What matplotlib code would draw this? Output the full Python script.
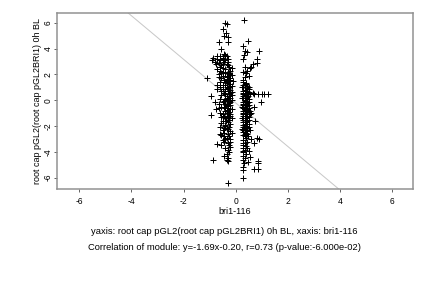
import matplotlib
matplotlib.use("Agg")
import matplotlib.pyplot as plt

plt.rcParams['font.family'] = ['Liberation Sans', 'DejaVu Sans']
plt.rcParams['axes.unicode_minus'] = False

# fitted line from the caption
slope = -1.69
intercept = -0.20

# left cluster (x around -0.35)
left_pts = [
    (-0.4, 6.0), (-0.35, 5.95), (-0.5, 5.5), (-0.38, 5.2), (-0.46, 5.0), (-0.3, 4.9),
    (-0.62, 4.5), (-0.3, 4.5), (-0.55, 4.0),
    (-0.85, 3.3), (-0.7, 3.2), (-0.6, 3.4), (-0.5, 3.3), (-0.4, 3.5), (-0.3, 3.2),
    (-0.45, 3.0), (-0.65, 2.9), (-0.75, 2.8), (-0.35, 2.8), (-0.55, 2.7), (-0.25, 2.6),
    (-0.5, 2.5), (-0.4, 2.4), (-0.3, 3.0), (-0.6, 3.1), (-0.45, 3.6), (-0.35, 3.4),
    (-0.8, 3.0), (-0.28, 2.7),
    (-0.3, 2.2), (-0.4, 2.1), (-0.25, 2.0), (-0.5, 1.9), (-0.35, 1.8), (-0.2, 1.7),
    (-0.45, 1.6), (-0.3, 1.5), (-0.6, 1.4), (-0.25, 1.3), (-0.4, 1.2), (-0.15, 1.1),
    (-0.35, 1.0), (-0.5, 0.9), (-0.2, 0.8), (-0.3, 0.7), (-0.45, 0.6), (-0.25, 0.5),
    (-0.55, 0.4), (-0.35, 0.3), (-0.2, 0.2), (-0.4, 0.1), (-0.3, 0.0), (-0.5, -0.1),
    (-0.25, -0.2), (-0.35, -0.3), (-0.2, -0.4), (-0.45, -0.5), (-0.3, -0.6), (-0.15, -0.7),
    (-0.4, -0.8), (-0.25, -0.9), (-0.35, -1.0), (-0.5, -1.1), (-0.2, -1.2), (-0.3, -1.3),
    (-0.4, -1.4), (-0.25, -1.5),
    (-0.2, 2.3), (-0.5, 2.2), (-0.15, 1.95), (-0.3, 1.85), (-0.55, 1.75), (-0.2, 1.55),
    (-0.35, 1.35), (-0.5, 1.15), (-0.25, 1.05), (-0.3, 0.85), (-0.15, 0.65), (-0.4, 0.45),
    (-0.25, 0.35), (-0.3, 0.15), (-0.15, 0.05), (-0.45, -0.05), (-0.2, -0.15), (-0.4, -0.25),
    (-0.3, -0.45), (-0.55, -0.55), (-0.2, -0.65), (-0.35, -0.75), (-0.3, -0.95), (-0.2, -1.05),
    (-0.45, -1.25), (-0.15, -1.35), (-0.3, -1.55),
    (-0.25, 2.15), (-0.35, 1.65), (-0.4, 1.45), (-0.2, 1.25), (-0.3, 0.95), (-0.4, 0.75),
    (-0.2, 0.55), (-0.35, 0.2), (-0.25, -0.05), (-0.3, -0.35), (-0.4, -0.6), (-0.25, -1.1),
    (-0.35, -1.2),
    (-1.08, 1.7), (-0.95, 0.3), (-0.7, 0.9), (-0.8, -0.1), (-0.65, -0.3), (-0.96, -1.15),
    (-0.75, -0.7), (-0.6, -1.0), (-0.7, 1.2), (-0.65, 2.0),
    (-0.3, -1.7), (-0.55, -1.75), (-0.2, -1.85), (-0.4, -2.0), (-0.25, -2.1), (-0.35, -2.25),
    (-0.2, -2.4), (-0.45, -2.5), (-0.6, -2.6), (-0.55, -2.7), (-0.3, -2.6), (-0.25, -2.8),
    (-0.35, -2.9), (-0.2, -3.0), (-0.5, -3.1), (-0.45, -3.25), (-0.3, -3.3), (-0.25, -3.5),
    (-0.2, -3.6), (-0.4, -3.7), (-0.3, -3.85), (-0.25, -4.0), (-0.35, -4.2), (-0.45, -4.3),
    (-0.3, -4.5), (-0.35, -4.65), (-0.28, -4.7), (-0.85, -4.6), (-0.3, -6.4), (-0.7, -3.4),
    (-0.4, -1.9), (-0.3, -2.2),
    (-0.6, 2.6), (-0.7, 2.4), (-0.55, 2.1), (-0.65, 1.8), (-0.6, 1.0), (-0.55, 0.7),
    (-0.6, 0.1), (-0.65, -0.6), (-0.55, -1.3), (-0.5, -1.6), (-0.6, -2.1), (-0.5, -2.3),
    (-0.45, -2.8), (-0.4, -3.0), (-0.55, -3.5), (-0.2, -3.2), (-0.15, -2.5), (-0.15, 0.4),
    (-0.12, 1.5), (-0.15, 2.5), (-0.5, 3.2), (-0.72, 3.4), (-0.9, 3.1), (-0.4, 3.1),
    (-0.48, 2.8), (-0.6, 2.3), (-0.38, -1.6), (-0.45, -2.15),
]

# right cluster (x around 0.35)
right_pts = [
    (0.31, 6.2), (0.46, 4.6), (0.3, 4.2), (0.9, 3.8), (0.35, 3.8), (0.42, 3.75), (0.33, 3.5),
    (0.8, 3.2), (0.8, 2.9), (0.3, 3.2), (0.6, 2.6), (0.55, 2.5), (0.65, 2.8), (0.4, 2.1),
    (0.45, 2.3), (0.35, 1.8), (0.5, 1.9), (0.3, 1.6),
    (0.3, 1.4), (0.4, 1.3), (0.35, 1.2), (0.45, 1.1), (0.3, 1.0), (0.5, 0.9), (0.35, 0.8),
    (0.4, 0.7), (0.3, 0.6), (0.45, 0.5), (0.35, 0.4), (0.3, 0.3), (0.4, 0.2), (0.5, 0.1),
    (0.35, 0.0), (0.3, -0.1), (0.45, -0.2), (0.4, -0.3), (0.3, -0.4), (0.35, -0.5),
    (0.5, -0.6), (0.4, -0.7), (0.3, -0.8), (0.45, -0.9), (0.35, -1.0), (0.3, -1.1),
    (0.4, -1.2), (0.5, -1.3), (0.35, -1.4), (0.3, -1.5), (0.45, -1.6), (0.4, -1.7),
    (0.35, -1.8), (0.3, -1.9), (0.4, -2.0), (0.5, -2.1), (0.35, -2.2), (0.3, -2.3),
    (0.45, -2.4), (0.4, -2.5),
    (0.38, 1.35), (0.27, 1.15), (0.42, 0.95), (0.28, 0.75), (0.5, 0.65), (0.38, 0.55),
    (0.27, 0.45), (0.42, 0.25), (0.3, 0.15), (0.38, -0.05), (0.5, -0.15), (0.28, -0.25),
    (0.42, -0.45), (0.28, -0.6), (0.38, -0.75), (0.55, -0.85), (0.27, -0.95), (0.42, -1.05),
    (0.3, -1.25), (0.38, -1.35), (0.5, -1.5), (0.28, -1.65), (0.42, -1.85), (0.3, -2.05),
    (0.38, -2.15), (0.28, -2.45), (0.45, -2.6),
    (0.55, 0.45), (0.7, 0.45), (0.85, 0.45), (1.0, 0.45), (1.1, 0.45), (1.25, 0.5),
    (0.96, -0.15), (0.65, 0.6),
    (0.75, -1.6), (0.8, -2.9), (0.9, -3.0), (0.7, -3.3), (0.6, -1.0), (0.7, -0.5),
    (0.3, -2.7), (0.35, -2.8), (0.4, -2.95), (0.3, -3.1), (0.45, -3.2), (0.35, -3.3),
    (0.3, -3.45), (0.4, -3.55), (0.3, -3.7), (0.35, -3.85), (0.5, -3.9), (0.3, -4.0),
    (0.4, -4.15), (0.3, -4.3), (0.55, -4.4), (0.35, -4.5), (0.47, -4.75), (0.3, -4.6),
    (0.85, -4.7), (0.85, -4.9), (0.7, -5.3), (0.85, -5.3), (0.3, -5.2), (0.3, -5.4),
    (0.3, -6.0), (0.32, -4.85),
    (0.25, 1.0), (0.25, 0.2), (0.25, -0.5), (0.25, -1.4), (0.25, -2.2), (0.52, -0.4),
    (0.55, -1.1), (0.52, -1.8), (0.55, -2.3), (0.48, 0.3), (0.52, 1.0), (0.35, -2.65),
    (0.28, -3.3), (0.42, -3.7), (0.27, -3.95), (0.6, -3.0), (0.48, -2.75), (0.35, 2.6),
    (0.3, 2.2),
]

ticks = [-6, -4, -2, 0, 2, 4, 6]

pts = left_pts + right_pts
xs = [p[0] for p in pts]
ys = [p[1] for p in pts]

fig = plt.figure(figsize=(6, 4), dpi=72)
ax = fig.add_axes([0.132, 0.345, 0.824, 0.61])

ax.axline((0, intercept), slope=slope, color='#c8c8c8', lw=1, zorder=1)
ax.plot(xs, ys, '+', color='black', ms=6, mew=1.0, zorder=2)

ax.set_xlim(-6.85, 6.8)
ax.set_ylim(-6.85, 6.77)
ax.set_xticks(ticks)
ax.set_yticks(ticks)
ax.set_yticklabels([str(t) for t in ticks], rotation=90, va='center')
ax.tick_params(labelsize=8.5, length=3, width=0.8, color='#404040')
ax.tick_params(axis='x', pad=5)
ax.tick_params(axis='y', pad=1.5)
for s in ax.spines.values():
    s.set_color('#909090')
    s.set_linewidth(1.5)

ax.set_xlabel('bri1-116', fontsize=9, labelpad=1)
ax.set_ylabel('root cap pGL2(root cap pGL2BRI1) 0h BL', fontsize=9, labelpad=2)

fig.text(0.52, 1 - 232 / 288, 'yaxis: root cap pGL2(root cap pGL2BRI1) 0h BL, xaxis: bri1-116',
         ha='center', va='center', fontsize=9.4)
fig.text(0.52, 1 - 248 / 288, 'Correlation of module: y=-1.69x-0.20, r=0.73 (p-value:-6.000e-02)',
         ha='center', va='center', fontsize=9.4)

fig.savefig('out.png', dpi=72)
